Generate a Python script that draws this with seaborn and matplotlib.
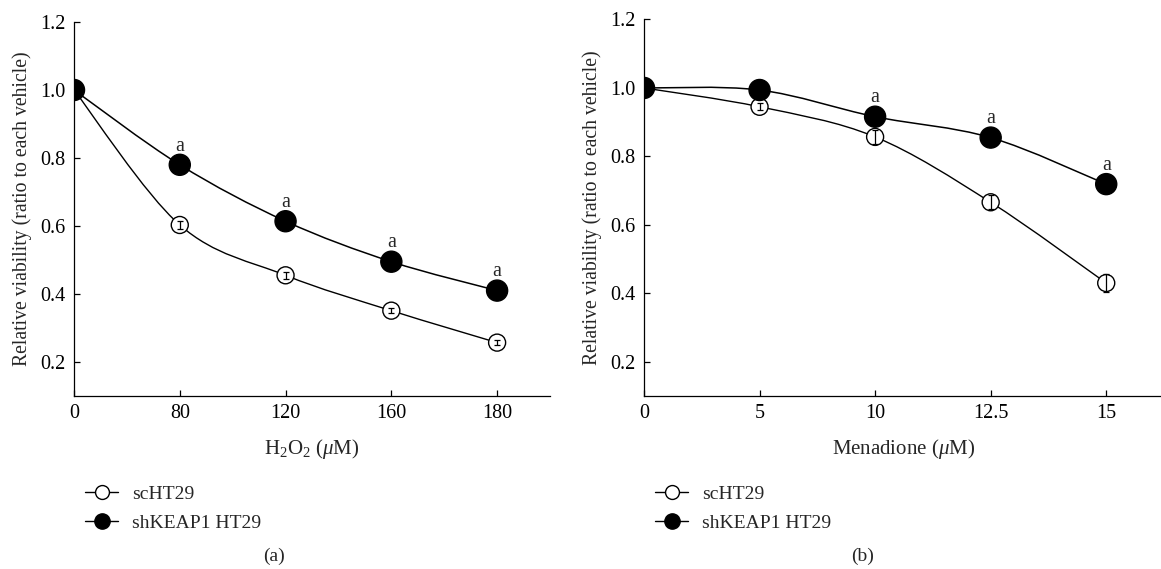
import numpy as np
import pandas as pd
import matplotlib
matplotlib.use('Agg')
import matplotlib.pyplot as plt
import seaborn as sns
from matplotlib.path import Path
from matplotlib.patches import PathPatch
from matplotlib.lines import Line2D

sns.set_theme(style='ticks')
plt.rcParams['font.family'] = ['Liberation Serif', 'DejaVu Serif']
plt.rcParams['mathtext.fontset'] = 'custom'
plt.rcParams['mathtext.rm'] = 'Liberation Serif'
plt.rcParams['mathtext.it'] = 'Liberation Serif:italic'

# ---------------- data ----------------
groups = ['scHT29', 'shKEAP1 HT29']

h2o2_doses = ['0', '80', '120', '160', '180']
h2o2_sc = [1.0, 0.603, 0.455, 0.351, 0.257]
h2o2_sc_err = [0.0, 0.012, 0.010, 0.008, 0.007]
h2o2_sh = [1.0, 0.780, 0.614, 0.495, 0.410]
h2o2_sh_err = [0.0, 0.006, 0.006, 0.005, 0.005]
h2o2_sig = ['', 'a', 'a', 'a', 'a']

men_doses = ['0', '5', '10', '12.5', '15']
men_sc = [1.0, 0.945, 0.857, 0.666, 0.430]
men_sc_err = [0.0, 0.010, 0.020, 0.020, 0.025]
men_sh = [1.0, 0.994, 0.916, 0.855, 0.719]
men_sh_err = [0.0, 0.005, 0.006, 0.006, 0.012]
men_sig = ['', '', 'a', 'a', 'a']

y_ticks = [0.2, 0.4, 0.6, 0.8, 1.0, 1.2]

TICK_FS = 14.5
XLAB_FS = 15
YLAB_FS = 14.2

def smooth_path(xs, ys):
    P = np.column_stack([xs, ys]).astype(float)
    E = np.vstack([P[0], P, P[-1]])
    verts = [P[0]]
    codes = [Path.MOVETO]
    for i in range(len(P) - 1):
        p0, p1, p2, p3 = E[i], E[i + 1], E[i + 2], E[i + 3]
        c1 = p1 + (p2 - p0) / 6.0
        c2 = p2 - (p3 - p1) / 6.0
        verts += [c1, c2, p2]
        codes += [Path.CURVE4] * 3
    return Path(verts, codes)


def draw_panel(ax, doses, sc, sc_err, sh, sh_err, sig, xlabel):
    pos = np.arange(len(doses))
    df = pd.DataFrame({
        'pos': np.concatenate([pos, pos]),
        'value': sc + sh,
        'err': sc_err + sh_err,
        'line': [groups[0]] * len(doses) + [groups[1]] * len(doses),
    })
    for g, lw in zip(groups, [1.0, 1.1]):
        d = df[df['line'] == g]
        ax.add_patch(PathPatch(smooth_path(d['pos'].values, d['value'].values),
                               facecolor='none', edgecolor='black', lw=lw, zorder=2))
    sns.scatterplot(data=df, x='pos', y='value', hue='line', size='line',
                    palette={groups[0]: 'white', groups[1]: 'black'},
                    sizes={groups[0]: 150, groups[1]: 230},
                    hue_order=groups, size_order=groups,
                    edgecolor='black', linewidth=1.0, legend=False, ax=ax, zorder=3)
    d = df[df['line'] == groups[0]]
    ax.errorbar(d['pos'], d['value'], yerr=d['err'], fmt='none', ecolor='black',
                elinewidth=0.9, capsize=2.2, capthick=0.9, zorder=4)
    for p, v, s in zip(pos, sh, sig):
        if s:
            ax.text(p, v + 0.055, s, ha='center', va='center', fontsize=TICK_FS)
    ax.set_xlim(0, 4.5)
    ax.set_ylim(0.1, 1.2)
    ax.set_xticks(pos)
    ax.set_xticklabels(doses)
    ax.set_yticks(y_ticks)
    ax.set_yticklabels([f'{t:.1f}' for t in y_ticks])
    ax.tick_params(direction='in', length=4, width=0.9, labelsize=TICK_FS, pad=6, colors='black')
    for s in ['top', 'right']:
        ax.spines[s].set_visible(False)
    for s in ['left', 'bottom']:
        ax.spines[s].set_linewidth(0.9)
        ax.spines[s].set_color('black')
    ax.set_xlabel(xlabel, fontsize=XLAB_FS, labelpad=10)
    ax.set_ylabel('Relative viability (ratio to each vehicle)', fontsize=YLAB_FS, labelpad=6)
    ax.set_facecolor('white')


fig = plt.figure(figsize=(11.61, 5.69), dpi=100)
ax1 = fig.add_axes([74 / 1161, 1 - 396 / 569, 476 / 1161, 374 / 569])
ax2 = fig.add_axes([644 / 1161, 1 - 396 / 569, 520 / 1161, 376.5 / 569])
ax2.patch.set_alpha(0)

draw_panel(ax1, h2o2_doses, h2o2_sc, h2o2_sc_err, h2o2_sh, h2o2_sh_err, h2o2_sig,
           r'H$_2$O$_2$ ($\mu$M)')
draw_panel(ax2, men_doses, men_sc, men_sc_err, men_sh, men_sh_err, men_sig,
           r'Menadione ($\mu$M)')

handles = [
    Line2D([0], [0], color='black', lw=1.0, marker='o', markersize=10,
           markerfacecolor='white', markeredgecolor='black', markeredgewidth=1.0),
    Line2D([0], [0], color='black', lw=1.0, marker='o', markersize=11,
           markerfacecolor='black', markeredgecolor='black'),
]
for xa in [85, 655]:
    fig.legend(handles, groups, loc='upper left', bbox_to_anchor=(xa / 1161, 1 - 485 / 569),
               frameon=False, fontsize=14, borderaxespad=0, borderpad=0,
               handlelength=1.7, handletextpad=0.7, labelspacing=0.62)

fig.text(274 / 1161, 1 - 556 / 569, '(a)', ha='center', va='center', fontsize=14)
fig.text(863 / 1161, 1 - 556 / 569, '(b)', ha='center', va='center', fontsize=14)

fig.savefig('out.png', dpi=100, facecolor='white')
